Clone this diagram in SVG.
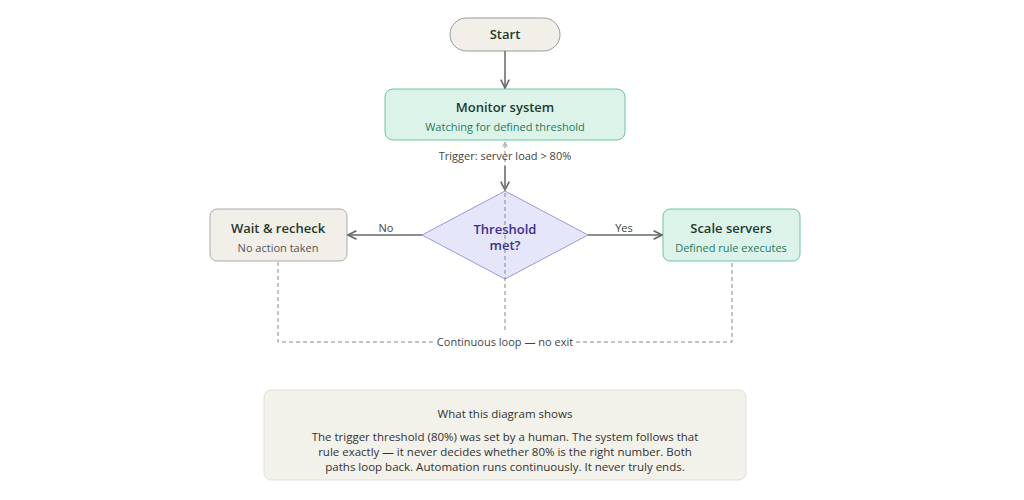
<svg xmlns="http://www.w3.org/2000/svg" width="1024" height="500" viewBox="0 0 1024 500">
<style>
text{font-family:"Open Sans","Noto Sans",sans-serif;text-anchor:middle}
.t{font-size:13px;font-weight:600;fill:#1f3a2e}
.s{font-size:11px}
.e{stroke:#666;stroke-width:1.5;fill:none}
.d{stroke:#888;stroke-width:1;fill:none;stroke-dasharray:4 3}
.l{font-size:11px;fill:#444}
.n{font-size:11.5px;fill:#333}
</style>
<defs>
<marker id="a" viewBox="0 0 10 10" refX="9" refY="5" markerWidth="7" markerHeight="7" orient="auto-start-reverse"><path d="M1,1L9,5L1,9" fill="none" stroke="#666" stroke-width="1.5"/></marker>
<marker id="b" viewBox="0 0 10 10" refX="9" refY="5" markerWidth="6" markerHeight="6" orient="auto"><path d="M1,1L9,5L1,9" fill="none" stroke="#888" stroke-width="1.2"/></marker>
</defs>
<rect width="1024" height="500" fill="#fff"/>
<g id="start"><rect x="450" y="18" width="110" height="33" rx="16.5" fill="#f1efe8" stroke="#999"/><text class="t" x="505" y="39" fill="#222">Start</text></g>
<g id="monitor"><rect x="385" y="89" width="240" height="51" rx="8" fill="#dcf3ea" stroke="#6cc4a0"/><text class="t" x="505" y="112">Monitor system</text><text class="s" x="505" y="131" fill="#1f7a5a">Watching for defined threshold</text></g>
<g id="decision"><path d="M505,191L588,235L505,279L422,235Z" fill="#e6e6fa" stroke="#9a97dc"/><text x="505" y="234" font-size="13" font-weight="600" fill="#3a2f8f">Threshold</text><text x="505" y="250" font-size="13" font-weight="600" fill="#3a2f8f">met?</text></g>
<g id="wait"><rect x="210" y="209" width="137" height="52" rx="7" fill="#f1efe8" stroke="#aaa"/><text class="t" x="278" y="233" fill="#222">Wait &amp; recheck</text><text class="s" x="278" y="252" fill="#555">No action taken</text></g>
<g id="scale"><rect x="663" y="209" width="137" height="52" rx="7" fill="#dcf3ea" stroke="#6cc4a0"/><text class="t" x="731" y="233">Scale servers</text><text class="s" x="731" y="252" fill="#1f7a5a">Defined rule executes</text></g>
<g id="note"><rect x="264" y="390" width="482" height="90" rx="7" fill="#f2f1ea" stroke="#e2e0d6"/>
<text class="n" x="505" y="418">What this diagram shows</text>
<text class="n" x="505" y="441">The trigger threshold (80%) was set by a human. The system follows that</text>
<text class="n" x="505" y="456">rule exactly — it never decides whether 80% is the right number. Both</text>
<text class="n" x="505" y="471">paths loop back. Automation runs continuously. It never truly ends.</text></g>
<g id="connectors">
<line class="e" x1="505" y1="51" x2="505" y2="88" marker-end="url(#a)"/>
<line class="e" x1="505" y1="166" x2="505" y2="190" marker-end="url(#a)"/>
<line class="e" x1="422" y1="235" x2="348" y2="235" marker-end="url(#a)"/>
<line class="e" x1="588" y1="235" x2="662" y2="235" marker-end="url(#a)"/>
<path class="d" d="M278,262V342H434M576,342H732V262"/>
<path class="d" d="M505,330V142" marker-end="url(#b)"/>
<text class="l" x="505" y="160">Trigger: server load &gt; 80%</text>
<text class="l" x="386" y="232">No</text>
<text class="l" x="624" y="232" fill="#1f7a5a">Yes</text>
<text class="l" x="505" y="346">Continuous loop — no exit</text>
</g>
</svg>
